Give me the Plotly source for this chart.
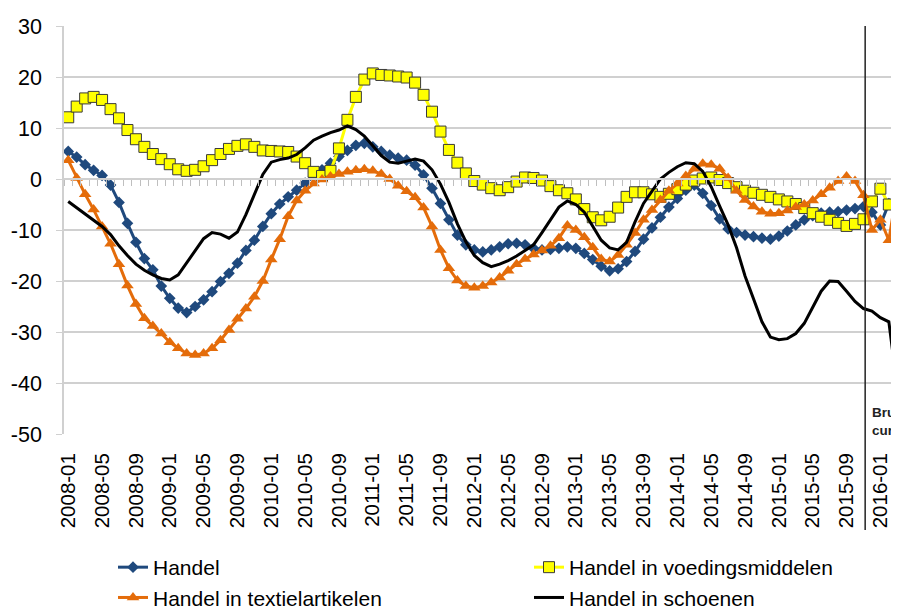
import plotly.graph_objects as go

# monthly categories 2008-01 .. 2016-03
months = [f"{y}-{m:02d}" for y in range(2008, 2017) for m in range(1, 13)][:99]
tick_months = months[::4]
y_ticks = [30, 20, 10, 0, -10, -20, -30, -40, -50]
y_tick_text = ["30", "20", "10", "0", "-10", "-20", "-30", "-40", "-50"]

handel = [5.4, 4.3, 2.8, 1.7, 0.7, -1.2, -4.6, -8.7, -12.4, -15.6,
          -17.8, -21.0, -23.4, -25.3, -26.2, -25.0, -23.7, -22.1, -20.1, -18.5,
          -16.5, -14.0, -12.0, -9.3, -6.8, -4.9, -3.5, -2.2, -0.8, 0.5,
          1.8, 3.1, 4.4, 5.6, 6.6, 7.0, 6.3, 5.4, 4.7, 4.1,
          3.7, 2.7, 0.8, -1.8, -4.8, -8.0, -11.0, -12.9, -13.9, -14.3,
          -13.9, -13.3, -12.7, -12.6, -12.9, -13.6, -13.9, -13.8, -13.6, -13.3,
          -13.6, -14.6, -15.8, -17.1, -18.0, -17.6, -16.2, -14.2, -11.8, -9.6,
          -7.5, -5.5, -3.8, -2.2, -1.2, -2.8, -5.2, -7.8, -9.8, -10.5,
          -11.0, -11.3, -11.6, -11.8, -11.2, -10.2, -9.0, -8.0, -7.2, -6.7,
          -6.5, -6.4, -6.1, -5.8, -5.4, -6.5, -9.0, -4.8, -3.5]

voeding = [12.1, 14.2, 15.8, 16.1, 15.5, 13.7, 11.9, 9.6, 7.8, 6.3,
           4.9, 3.9, 2.9, 1.9, 1.6, 1.8, 2.5, 3.7, 4.9, 5.9,
           6.5, 6.8, 6.3, 5.6, 5.5, 5.4, 5.3, 4.4, 3.1, 1.4,
           0.6, 1.6, 6.0, 11.6, 16.1, 19.5, 20.7, 20.4, 20.3, 20.1,
           19.9, 18.9, 16.5, 13.2, 9.3, 5.7, 3.2, 1.1, -0.4, -1.1,
           -1.8, -2.2, -1.6, -0.5, 0.3, 0.2, -0.3, -1.4, -2.2, -2.8,
           -4.0, -5.9, -7.5, -8.1, -7.4, -5.6, -3.5, -2.6, -2.6, -3.0,
           -3.5, -2.9, -2.0, -1.1, -0.3, 0.1, 0.3, -0.2, -0.8, -1.6,
           -2.3, -2.7, -3.1, -3.5, -4.0, -4.4, -4.9, -5.7, -6.7, -7.4,
           -8.0, -8.6, -9.2, -8.8, -7.9, -4.4, -1.9, -5.0, -3.8]

textiel = [3.7, 0.2, -3.0, -6.0, -9.3, -12.7, -16.7, -20.9, -24.5, -27.3,
           -28.8, -30.3, -32.0, -33.2, -34.2, -34.5, -34.2, -33.2, -31.6, -29.6,
           -27.4, -25.4, -23.1, -20.0, -15.8, -11.8, -7.3, -4.2, -2.3, -0.9,
           -0.1, 0.5, 1.0, 1.4, 1.7, 1.9, 1.6, 1.0, 0.0, -1.3,
           -2.4, -3.6, -5.6, -9.3, -13.9, -17.5, -19.9, -21.0, -21.3, -21.0,
           -20.3, -19.3, -18.0, -16.7, -15.7, -14.8, -14.0, -13.1, -11.6, -9.1,
           -10.0, -11.4, -13.4, -15.7, -16.2, -14.9, -12.9, -10.6, -8.0, -6.1,
           -4.1, -2.3, -0.9, 0.6, 2.0, 3.0, 2.8, 2.0, 0.2, -2.3,
           -4.1, -5.4, -6.4, -6.8, -6.7, -6.2, -5.5, -5.0, -4.2, -3.0,
           -1.7, -0.4, 0.5, -0.4, -3.2, -10.0, -8.0, -12.0, -1.8]

schoenen = [-4.4, -5.6, -6.9, -8.0, -9.3, -10.9, -13.1, -15.0, -16.7, -17.9,
            -18.8, -19.5, -19.8, -18.8, -16.5, -14.1, -11.7, -10.5, -10.8, -11.6,
            -10.4, -7.0, -3.1, 0.9, 3.3, 3.8, 4.1, 4.8, 6.1, 7.6,
            8.4, 9.1, 9.6, 10.4, 9.7, 8.4, 6.5, 4.6, 3.3, 3.1,
            3.5, 3.9, 3.5, 1.8, -1.0, -4.6, -8.8, -12.3, -15.0, -16.4,
            -17.2, -16.7, -16.0, -15.1, -14.0, -12.9, -10.5, -7.9, -5.5, -4.3,
            -5.0, -6.5, -9.3, -12.0, -13.5, -13.9, -12.4, -8.4, -4.8, -2.3,
            0.0, 1.3, 2.4, 3.2, 3.0, 1.5, -1.5, -5.3, -9.0, -13.5,
            -19.0, -23.5, -28.0, -31.0, -31.5, -31.3, -30.3, -28.3, -25.0, -22.0,
            -20.0, -20.1, -22.0, -24.0, -25.4, -25.9, -27.2, -28.0, -41.0]

x_range = [-0.5, 98.2]
break_x = 94.2  # position of the vertical marker line
font = "Liberation Sans, Arial, sans-serif"
grid = "#D0D0D0"

fig = go.Figure()

fig.add_trace(go.Scatter(
    x=months, y=handel, name="Handel", mode="lines+markers",
    line=dict(color="#1F497D", width=3),
    marker=dict(symbol="diamond", size=9, color="#1F497D"),
))
fig.add_trace(go.Scatter(
    x=months, y=voeding, name="Handel in voedingsmiddelen", mode="lines+markers",
    line=dict(color="#FFFF00", width=3),
    marker=dict(symbol="square", size=11, color="#FFFF00",
                line=dict(color="#3A3A3A", width=1)),
))
fig.add_trace(go.Scatter(
    x=months, y=textiel, name="Handel in textielartikelen", mode="lines+markers",
    line=dict(color="#E46C0A", width=3),
    marker=dict(symbol="triangle-up", size=11, color="#E46C0A"),
))
fig.add_trace(go.Scatter(
    x=months, y=schoenen, name="Handel in schoenen", mode="lines",
    line=dict(color="#000000", width=3),
))
# carrier for the zero-line axis with tick marks
fig.add_trace(go.Scatter(
    x=[0], y=[0], xaxis="x2", mode="markers", marker=dict(opacity=0),
    showlegend=False, hoverinfo="skip",
))

fig.add_shape(type="line", xref="x", yref="paper", x0=break_x, x1=break_x,
              y0=-0.235, y1=1, line=dict(color="#222222", width=1.5))
fig.add_annotation(x=break_x, y=-47.5, xref="x", yref="y", xanchor="left",
                   yanchor="middle", xshift=5, showarrow=False, align="left",
                   text="<b>Bruto<br>curve</b>",
                   font=dict(family=font, size=13.5, color="#222222"))

# page body has an 8px margin: figure is sized so it ends at the window edge
fig.update_layout(
    width=891, height=602,
    margin=dict(l=56, r=0, t=18, b=176, autoexpand=False),
    paper_bgcolor="white", plot_bgcolor="white",
    font=dict(family=font, color="#000000"),
    showlegend=True,
    legend=dict(orientation="h", x=0.0587, xanchor="left", y=-0.277, yanchor="top",
                font=dict(family=font, size=21), entrywidth=371,
                entrywidthmode="pixels", tracegroupgap=0, itemwidth=30),
    xaxis=dict(type="category", range=x_range, tickvals=tick_months,
               ticktext=tick_months, tickangle=-90, showgrid=False,
               zeroline=False, showline=False, ticks="",
               tickfont=dict(size=20.5), ticklabelstandoff=14, automargin=False),
    xaxis2=dict(type="linear", overlaying="x", anchor="free", position=0.625,
                range=x_range, tick0=-0.5, dtick=1, ticks="outside", ticklen=6,
                tickcolor="#BFBFBF", showticklabels=False, showgrid=False,
                zeroline=False, showline=True, linecolor=grid, linewidth=1.5),
    yaxis=dict(range=[-50, 30], tickvals=y_ticks, ticktext=y_tick_text,
               showgrid=True, gridcolor=grid,
               gridwidth=1.5, zeroline=False, showline=True, linecolor=grid,
               linewidth=1.5, ticks="outside", ticklen=6, tickcolor=grid,
               tickfont=dict(size=21.5), ticklabelstandoff=10, automargin=False),
)

fig.write_html("out.html")
